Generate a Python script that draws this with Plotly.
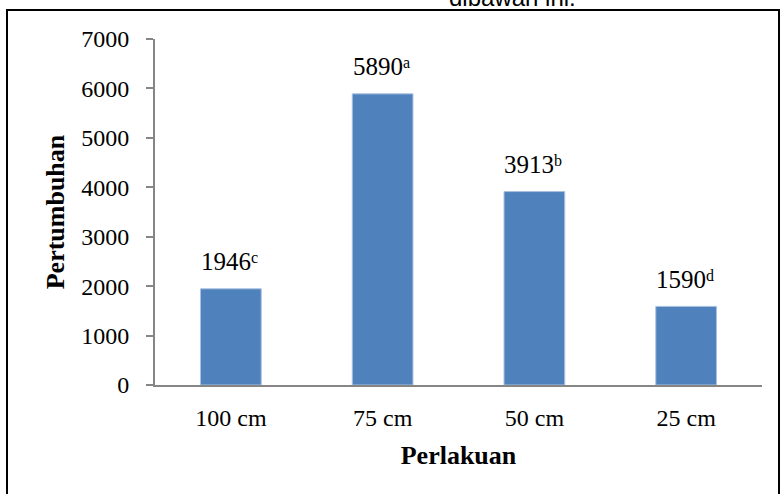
import plotly.graph_objects as go

# Treatment groups (planting distance) and mean growth values
perlakuan = ["100 cm", "75 cm", "50 cm", "25 cm"]
pertumbuhan = [1946, 5890, 3913, 1590]
notasi = ["c", "a", "b", "d"]

y_ticks = [0, 1000, 2000, 3000, 4000, 5000, 6000, 7000]

W, H = 781, 494
M_L, M_R, M_T, M_B = 155, 19, 39, 109
PW, PH = W - M_L - M_R, H - M_T - M_B

def px_x(px):
    return (px - M_L) / PW

def px_y(py):
    return (H - M_B - py) / PH

SERIF = "Liberation Serif, Times New Roman, serif"
AXIS_GRAY = "#868686"

fig = go.Figure(
    go.Bar(
        x=perlakuan,
        y=pertumbuhan,
        marker=dict(color="#4F81BD", line=dict(color="#A9C1E0", width=1)),
        hoverinfo="skip",
    )
)

# Value labels above each bar, followed by a raised significance letter
for cat, val, huruf in zip(perlakuan, pertumbuhan, notasi):
    fig.add_annotation(
        x=cat, y=val, text=str(val),
        showarrow=False, xanchor="right", yanchor="middle",
        xshift=21, yshift=27, borderpad=0,
        font=dict(family=SERIF, size=25, color="black"),
    )
    fig.add_annotation(
        x=cat, y=val, text=huruf,
        showarrow=False, xanchor="left", yanchor="middle",
        xshift=19, yshift=31, borderpad=0,
        font=dict(family=SERIF, size=16, color="black"),
    )

# Caption line cut at the top of the frame
fig.add_annotation(
    xref="paper", yref="paper", x=px_x(512), y=px_y(-3),
    text="dibawah ini.", showarrow=False, xanchor="center", yanchor="middle",
    font=dict(family="Liberation Sans, Arial, sans-serif", size=24, color="black"),
)

# Black frame around the chart
fig.add_shape(
    type="rect", xref="paper", yref="paper",
    x0=px_x(7), x1=px_x(779), y0=px_y(520), y1=px_y(10),
    line=dict(color="black", width=2), layer="below",
)

fig.update_layout(
    width=W, height=H,
    margin=dict(l=M_L, r=M_R, t=M_T, b=M_B, pad=0),
    paper_bgcolor="white", plot_bgcolor="white",
    showlegend=False, bargap=0.6,
    font=dict(family=SERIF, size=24, color="black"),
)

fig.update_xaxes(
    showline=True, linecolor=AXIS_GRAY, linewidth=2,
    ticks="", showgrid=False, zeroline=False,
    tickfont=dict(family=SERIF, size=24, color="black"),
    ticklabelstandoff=10,
    title=dict(text="<b>Perlakuan</b>", standoff=16,
               font=dict(family=SERIF, size=26, color="black")),
)

fig.update_yaxes(
    range=[0, 7000], tickvals=y_ticks,
    showline=True, linecolor=AXIS_GRAY, linewidth=2,
    ticks="outside", ticklen=7, tickcolor=AXIS_GRAY, tickwidth=2,
    showgrid=False, zeroline=False,
    tickfont=dict(family=SERIF, size=24, color="black"),
    ticklabelstandoff=12,
    title=dict(text="<b>Pertumbuhan</b>", standoff=9,
               font=dict(family=SERIF, size=26, color="black")),
)

fig.write_html("out.html")
